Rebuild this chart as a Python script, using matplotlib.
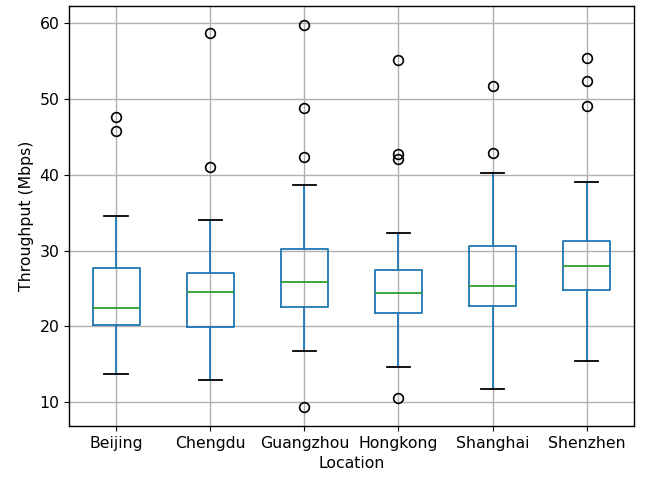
import matplotlib
matplotlib.use("Agg")
import matplotlib.pyplot as plt

locations = ["Beijing", "Chengdu", "Guangzhou", "Hongkong", "Shanghai", "Shenzhen"]
whisker_low = [13.7, 13.0, 16.8, 14.6, 11.8, 15.4]
q1 = [20.2, 19.95, 22.55, 21.8, 22.7, 24.75]
median = [22.4, 24.5, 25.9, 24.4, 25.3, 27.9]
q3 = [27.7, 27.1, 30.25, 27.45, 30.6, 31.3]
whisker_high = [34.5, 34.0, 38.65, 32.3, 40.25, 39.0]
outliers = [
    [47.6, 45.8],
    [58.65, 41.0],
    [59.7, 48.8, 42.4, 9.4],
    [55.1, 42.75, 42.1, 10.5],
    [51.65, 42.9],
    [55.45, 52.4, 49.1],
]

plt.rcParams["font.size"] = 11.3

stats = []
for i, name in enumerate(locations):
    stats.append(dict(label=name, whislo=whisker_low[i], q1=q1[i], med=median[i],
                      q3=q3[i], whishi=whisker_high[i], fliers=outliers[i]))

fig = plt.figure(figsize=(6.46, 4.78), dpi=100)
ax = fig.add_subplot(111)
fig.subplots_adjust(left=0.107, right=0.981, bottom=0.109, top=0.987)

lw = 1.3
ax.bxp(stats, positions=range(1, len(locations) + 1), widths=0.5,
       boxprops=dict(color="C0", linewidth=lw), whiskerprops=dict(color="C0", linewidth=lw),
       capprops=dict(color="k", linewidth=lw), medianprops=dict(color="C2", linewidth=lw),
       flierprops=dict(marker="o", markerfacecolor="none", markeredgecolor="k",
                       markersize=7, markeredgewidth=1.2))
ax.grid(True, linewidth=1.0)
ax.set_ylabel("Throughput (Mbps)")
ax.set_xlabel("Location")
for s in ax.spines.values():
    s.set_linewidth(1.0)

fig.savefig("out.png", dpi=100)
